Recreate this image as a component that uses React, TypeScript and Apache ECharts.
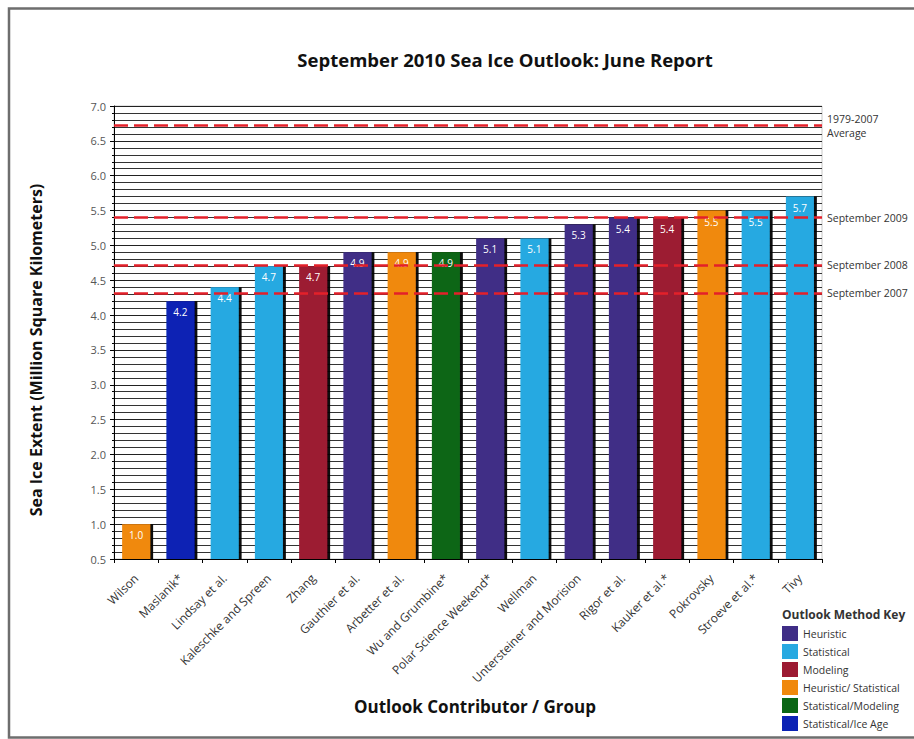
import React, { useEffect, useRef } from "react";
import * as echarts from "echarts";

const categories = [
  "Wilson", "Maslanik*", "Lindsay et al.", "Kaleschke and Spreen", "Zhang",
  "Gauthier et al.", "Arbetter et al.", "Wu and Grumbine*", "Polar Science Weekend*",
  "Wellman", "Untersteiner and Morision", "Rigor et al.", "Kauker et al.*",
  "Pokrovsky", "Stroeve et al.*", "Tivy",
];
const values = [1.0, 4.2, 4.4, 4.7, 4.7, 4.9, 4.9, 4.9, 5.1, 5.1, 5.3, 5.4, 5.4, 5.5, 5.5, 5.7];
const methodOf = [
  "Heuristic/ Statistical", "Statistical/Ice Age", "Statistical", "Statistical", "Modeling",
  "Heuristic", "Heuristic/ Statistical", "Statistical/Modeling", "Heuristic",
  "Statistical", "Heuristic", "Heuristic", "Modeling",
  "Heuristic/ Statistical", "Statistical", "Statistical",
];
const methods = ["Heuristic", "Statistical", "Modeling", "Heuristic/ Statistical", "Statistical/Modeling", "Statistical/Ice Age"];
const methodColors = ["#3f2d86", "#28a9e1", "#9c1a32", "#f0890c", "#0a6615", "#0b22b4"];
const refNames = ["1979-2007\nAverage", "September 2009", "September 2008", "September 2007"];
const refValues = [6.72, 5.4, 4.72, 4.32];

const FONT = "'Open Sans', 'DejaVu Sans', sans-serif";

export default function App() {
  const ref = useRef<HTMLDivElement>(null);
  useEffect(() => {
    if (!ref.current) return;
    const chart = echarts.init(ref.current, null, { renderer: "svg" });
    const series: any[] = methods.map((m, mi) => ({
      type: "bar",
      name: m,
      barWidth: 28,
      barGap: "-100%",
      data: values.map((v, i) => (methodOf[i] === m ? v : "-")),
      itemStyle: {
        color: methodColors[mi],
        shadowColor: "rgba(0,0,0,0.95)",
        shadowOffsetX: 3,
        shadowOffsetY: 0,
        shadowBlur: 0,
      },
      label: {
        show: true,
        position: "insideTop",
        distance: 6,
        color: "#fff",
        fontSize: 10,
        fontFamily: FONT,
        formatter: (p: any) => Number(p.value).toFixed(1),
      },
    }));
    series[0].markLine = {
      silent: true,
      symbol: "none",
      lineStyle: { color: "#e3202a", width: 2.5, type: [14, 6] },
      label: {
        position: "end",
        distance: 5,
        color: "#333",
        fontSize: 10.5,
        fontFamily: FONT,
        lineHeight: 14,
        formatter: (p: any) => p.name,
      },
      data: refValues.map((v, i) => ({ name: refNames[i], yAxis: v })),
    };
    chart.setOption({
      animation: false,
      backgroundColor: "#fff",
      title: [
        {
          text: "September 2010 Sea Ice Outlook: June Report",
          left: 500,
          top: 45,
          textAlign: "center",
          textStyle: { fontFamily: FONT, fontSize: 18.5, fontWeight: "bold", color: "#111" },
        },
        {
          text: "Outlook Method Key",
          left: 777,
          top: 603,
          textStyle: { fontFamily: FONT, fontSize: 12, fontWeight: "bold", color: "#333" },
        },
      ],
      legend: {
        orient: "vertical",
        left: 782,
        top: 626,
        padding: 0,
        height: 120,
        itemWidth: 16,
        itemHeight: 15,
        itemGap: 3,
        icon: "rect",
        data: methods,
        textStyle: { fontFamily: FONT, fontSize: 10.5, color: "#333" },
        selectedMode: false,
      },
      grid: {
        left: 114,
        right: 92,
        top: 106,
        bottom: 180,
        show: true,
        borderColor: "#c8c8c8",
        borderWidth: 1,
      },
      xAxis: {
        type: "category",
        data: categories,
        axisLine: { lineStyle: { color: "#000", width: 1 } },
        axisTick: { show: true, length: 4, lineStyle: { color: "#000" } },
        axisLabel: {
          interval: 0,
          rotate: 45,
          margin: 17,
          fontSize: 12,
          fontFamily: FONT,
          color: "#333",
        },
      },
      yAxis: {
        type: "value",
        min: 0.5,
        max: 7.0,
        interval: 0.5,
        axisLine: { show: true, lineStyle: { color: "#000", width: 1 } },
        axisTick: { show: true, length: 4, lineStyle: { color: "#000" } },
        minorTick: { show: true, splitNumber: 5, length: 2, lineStyle: { color: "#000" } },
        axisLabel: {
          fontSize: 11,
          fontFamily: FONT,
          color: "#555",
          margin: 8,
          formatter: (v: number) => v.toFixed(1),
        },
        splitLine: { show: true, lineStyle: { color: "#222", width: 1 } },
        minorSplitLine: { show: true, lineStyle: { color: "#333", width: 1 } },
      },
      graphic: [
        {
          type: "rect",
          silent: true,
          shape: { x: 9, y: 8.5, width: 920, height: 729 },
          style: { fill: "none", stroke: "#6e6e6e", lineWidth: 2.5 },
        },
        {
          type: "text",
          silent: true,
          x: 36,
          y: 350,
          rotation: Math.PI / 2,
          style: {
            text: "Sea Ice Extent (Million Square Kilometers)",
            fontFamily: FONT,
            fontSize: 16,
            fontWeight: "bold",
            fill: "#111",
            align: "center",
            verticalAlign: "middle",
          },
        },
        {
          type: "text",
          silent: true,
          x: 475,
          y: 706,
          style: {
            text: "Outlook Contributor / Group",
            fontFamily: FONT,
            fontSize: 17,
            fontWeight: "bold",
            fill: "#111",
            align: "center",
            verticalAlign: "middle",
          },
        },
      ],
      series,
    });
    return () => chart.dispose();
  }, []);
  return (
    <div
      ref={ref}
      style={{ position: "fixed", left: 0, top: 0, width: 914, height: 739 }}
    />
  );
}
